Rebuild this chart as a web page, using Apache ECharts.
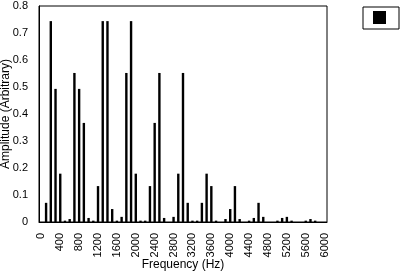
<!DOCTYPE html>
<html>
<head>
<meta charset="utf-8">
<script src="https://cdn.jsdelivr.net/npm/echarts@6/dist/echarts.min.js"></script>
<style>html,body{margin:0;padding:0;background:#fff;}#c{width:406px;height:274px;}</style>
</head>
<body>
<div id="c"></div>
<script>
// Frequencies in Hz (categories, every 100 Hz)
var frequencies = [];
for (var f = 0; f <= 6000; f += 100) frequencies.push(String(f));
// Amplitude values
var amplitudes = [
  0, 0.071, 0.744, 0.493, 0.179, 0.005, 0.011, 0.552, 0.493, 0.367,
  0.015, 0.005, 0.133, 0.744, 0.744, 0.048, 0.005, 0.019, 0.552, 0.744,
  0.179, 0.005, 0.005, 0.133, 0.367, 0.552, 0.015, 0, 0.019, 0.179,
  0.552, 0.071, 0.005, 0.005, 0.071, 0.179, 0.133, 0.005, 0, 0.011,
  0.048, 0.133, 0.011, 0, 0.005, 0.015, 0.071, 0.019, 0, 0,
  0.005, 0.015, 0.019, 0.005, 0, 0, 0.005, 0.011, 0.005, 0,
  0
];
var yTicks = [0, 0.1, 0.2, 0.3, 0.4, 0.5, 0.6, 0.7, 0.8];

var font = 'Liberation Sans, Arial, sans-serif';
var chart = echarts.init(document.getElementById('c'), null, {renderer: 'canvas'});
chart.setOption({
  backgroundColor: '#ffffff',
  animation: false,
  legend: {
    left: 363, top: 7,
    data: ['Amplitude'],
    formatter: function () { return ''; },
    itemWidth: 13, itemHeight: 13, itemGap: 0,
    padding: [4, 13, 5, 10],
    borderColor: '#000', borderWidth: 1,
    icon: 'rect',
    textStyle: {fontSize: 11, fontFamily: font}
  },
  grid: {
    left: 39, right: 79, top: 6, bottom: 52,
    show: true, borderColor: '#000', borderWidth: 1,
    containLabel: false, outerBoundsMode: 'none'
  },
  xAxis: {
    type: 'category',
    data: frequencies,
    name: 'Frequency (Hz)',
    nameLocation: 'middle',
    nameGap: 37,
    nameMoveOverlap: false,
    nameTextStyle: {fontSize: 12, fontFamily: font, color: '#000'},
    axisLine: {lineStyle: {color: '#000', width: 1}},
    axisTick: {show: false},
    axisLabel: {interval: 3, rotate: 90, margin: 11, fontSize: 11, fontFamily: font, color: '#000'},
    splitLine: {show: false}
  },
  yAxis: {
    type: 'value',
    min: 0, max: 0.8, interval: 0.1,
    name: 'Amplitude (Arbitrary)',
    nameLocation: 'middle',
    nameGap: 27,
    nameMoveOverlap: false,
    nameTextStyle: {fontSize: 12, fontFamily: font, color: '#000'},
    axisLine: {show: true, lineStyle: {color: '#000', width: 1}},
    axisTick: {show: false},
    axisLabel: {margin: 11, fontSize: 11, fontFamily: font, color: '#000',
      formatter: function (v) { return yTicks.indexOf(Math.round(v * 10) / 10) >= 0 ? String(Math.round(v * 10) / 10) : ''; }},
    splitLine: {show: false}
  },
  series: [{
    name: 'Amplitude',
    type: 'bar',
    data: amplitudes,
    barWidth: 2.4,
    itemStyle: {color: '#000'}
  }]
});
</script>
</body>
</html>
